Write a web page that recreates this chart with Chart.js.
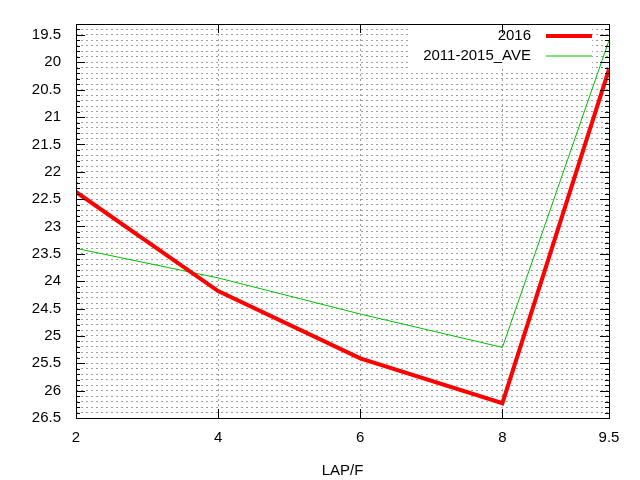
<!DOCTYPE html>
<html>
<head>
<meta charset="utf-8">
<script src="https://cdn.jsdelivr.net/npm/chart.js@4"></script>
<style>
  html, body { margin: 0; padding: 0; background: #fff; }
  #wrap { width: 640px; height: 480px; }
</style>
</head>
<body>
<div id="wrap"><canvas id="c" width="640" height="480"></canvas></div>
<script>
// data
const laps = [2, 4, 6, 8, 9.5];
const xTicks = [2, 4, 6, 8, 9.5];
const s2016 = [22.37, 24.18, 25.41, 26.23, 20.13];
const sAve = [23.40, 23.94, 24.60, 25.21, 19.60];
const seriesNames = ['2016', '2011-2015_AVE'];

const FONT = 'Liberation Sans, Arial, sans-serif';

function isMajor(v) {
  return Math.abs(v * 2 - Math.round(v * 2)) < 1e-6;
}

// key box is opaque: blank the grid under it before the lines go on
const keyBox = {
  id: 'keyBox',
  beforeDatasetsDraw(chart) {
    const { ctx, chartArea: a } = chart;
    ctx.save();
    ctx.fillStyle = '#fff';
    ctx.fillRect(a.right - 199, a.top + 1, 182, 43);
    ctx.restore();
  }
};

// box, inward ticks, and gnuplot-like legend
const gnuFrame = {
  id: 'gnuFrame',
  afterDatasetsDraw(chart) {
    const { ctx, chartArea: a, scales } = chart;
    ctx.save();
    ctx.strokeStyle = '#000';
    ctx.lineWidth = 1;
    // y ticks (major + minor), both sides
    scales.y.ticks.forEach(t => {
      const py = Math.round(scales.y.getPixelForValue(t.value)) + 0.5;
      const len = isMajor(t.value) ? 9 : 4;
      ctx.beginPath();
      ctx.moveTo(a.left, py); ctx.lineTo(a.left + len, py);
      ctx.moveTo(a.right, py); ctx.lineTo(a.right - len, py);
      ctx.stroke();
    });
    // x ticks, bottom and top
    xTicks.forEach(v => {
      const px = Math.round(scales.x.getPixelForValue(v)) + 0.5;
      ctx.beginPath();
      ctx.moveTo(px, a.bottom); ctx.lineTo(px, a.bottom - 9);
      ctx.moveTo(px, a.top); ctx.lineTo(px, a.top + 9);
      ctx.stroke();
    });
    ctx.strokeRect(Math.round(a.left) + 0.5, Math.round(a.top) + 0.5,
      Math.round(a.right - a.left), Math.round(a.bottom - a.top));

    // legend
    ctx.font = '15px ' + FONT;
    ctx.textAlign = 'right';
    ctx.textBaseline = 'middle';
    const textRight = a.right - 78;
    chart.data.datasets.forEach((ds, i) => {
      const y = a.top + 12 + i * 20;
      ctx.fillStyle = '#000';
      ctx.fillText(ds.label, textRight, y);
      ctx.strokeStyle = ds.borderColor;
      ctx.lineWidth = ds.borderWidth;
      ctx.beginPath();
      ctx.moveTo(textRight + 15, y); ctx.lineTo(textRight + 61, y);
      ctx.stroke();
    });
    ctx.restore();
  }
};

const gridOpts = { color: '#a0a0a0', lineWidth: 1, drawTicks: false };

new Chart(document.getElementById('c'), {
  type: 'line',
  data: {
    datasets: [
      { label: seriesNames[0], data: laps.map((x, i) => ({ x, y: s2016[i] })),
        borderColor: '#ff0000', borderWidth: 4, pointRadius: 0, tension: 0, fill: false },
      { label: seriesNames[1], data: laps.map((x, i) => ({ x, y: sAve[i] })),
        borderColor: '#00c000', borderWidth: 1, pointRadius: 0, tension: 0, fill: false }
    ]
  },
  options: {
    responsive: false,
    animation: false,
    layout: { padding: { left: 0, right: 31, top: 20, bottom: 0 } },
    plugins: { legend: { display: false }, tooltip: { enabled: false } },
    scales: {
      x: {
        type: 'linear', min: 2, max: 9.5,
        afterBuildTicks: s => { s.ticks = xTicks.map(v => ({ value: v })); },
        afterFit: s => { s.height = 62; },
        border: { display: false, dash: [2, 3] },
        grid: gridOpts,
        ticks: { color: '#000', font: { family: FONT, size: 15 }, padding: 11, maxRotation: 0,
          callback: v => String(v) },
        title: { display: true, text: 'LAP/F', color: '#000', font: { family: FONT, size: 15 },
          padding: { top: 9, bottom: 0 } }
      },
      y: {
        reverse: true, min: 19.3, max: 26.5,
        afterBuildTicks: s => {
          const t = [];
          for (let k = 193; k <= 265; k++) t.push({ value: k / 10 });
          s.ticks = t;
        },
        afterFit: s => { s.width = 76; },
        border: { display: false, dash: [2, 3] },
        grid: gridOpts,
        ticks: { color: '#000', font: { family: FONT, size: 15 }, padding: 15, autoSkip: false,
          callback: v => isMajor(v) ? String(Math.round(v * 2) / 2) : '' }
      }
    }
  },
  plugins: [keyBox, gnuFrame]
});
</script>
</body>
</html>
